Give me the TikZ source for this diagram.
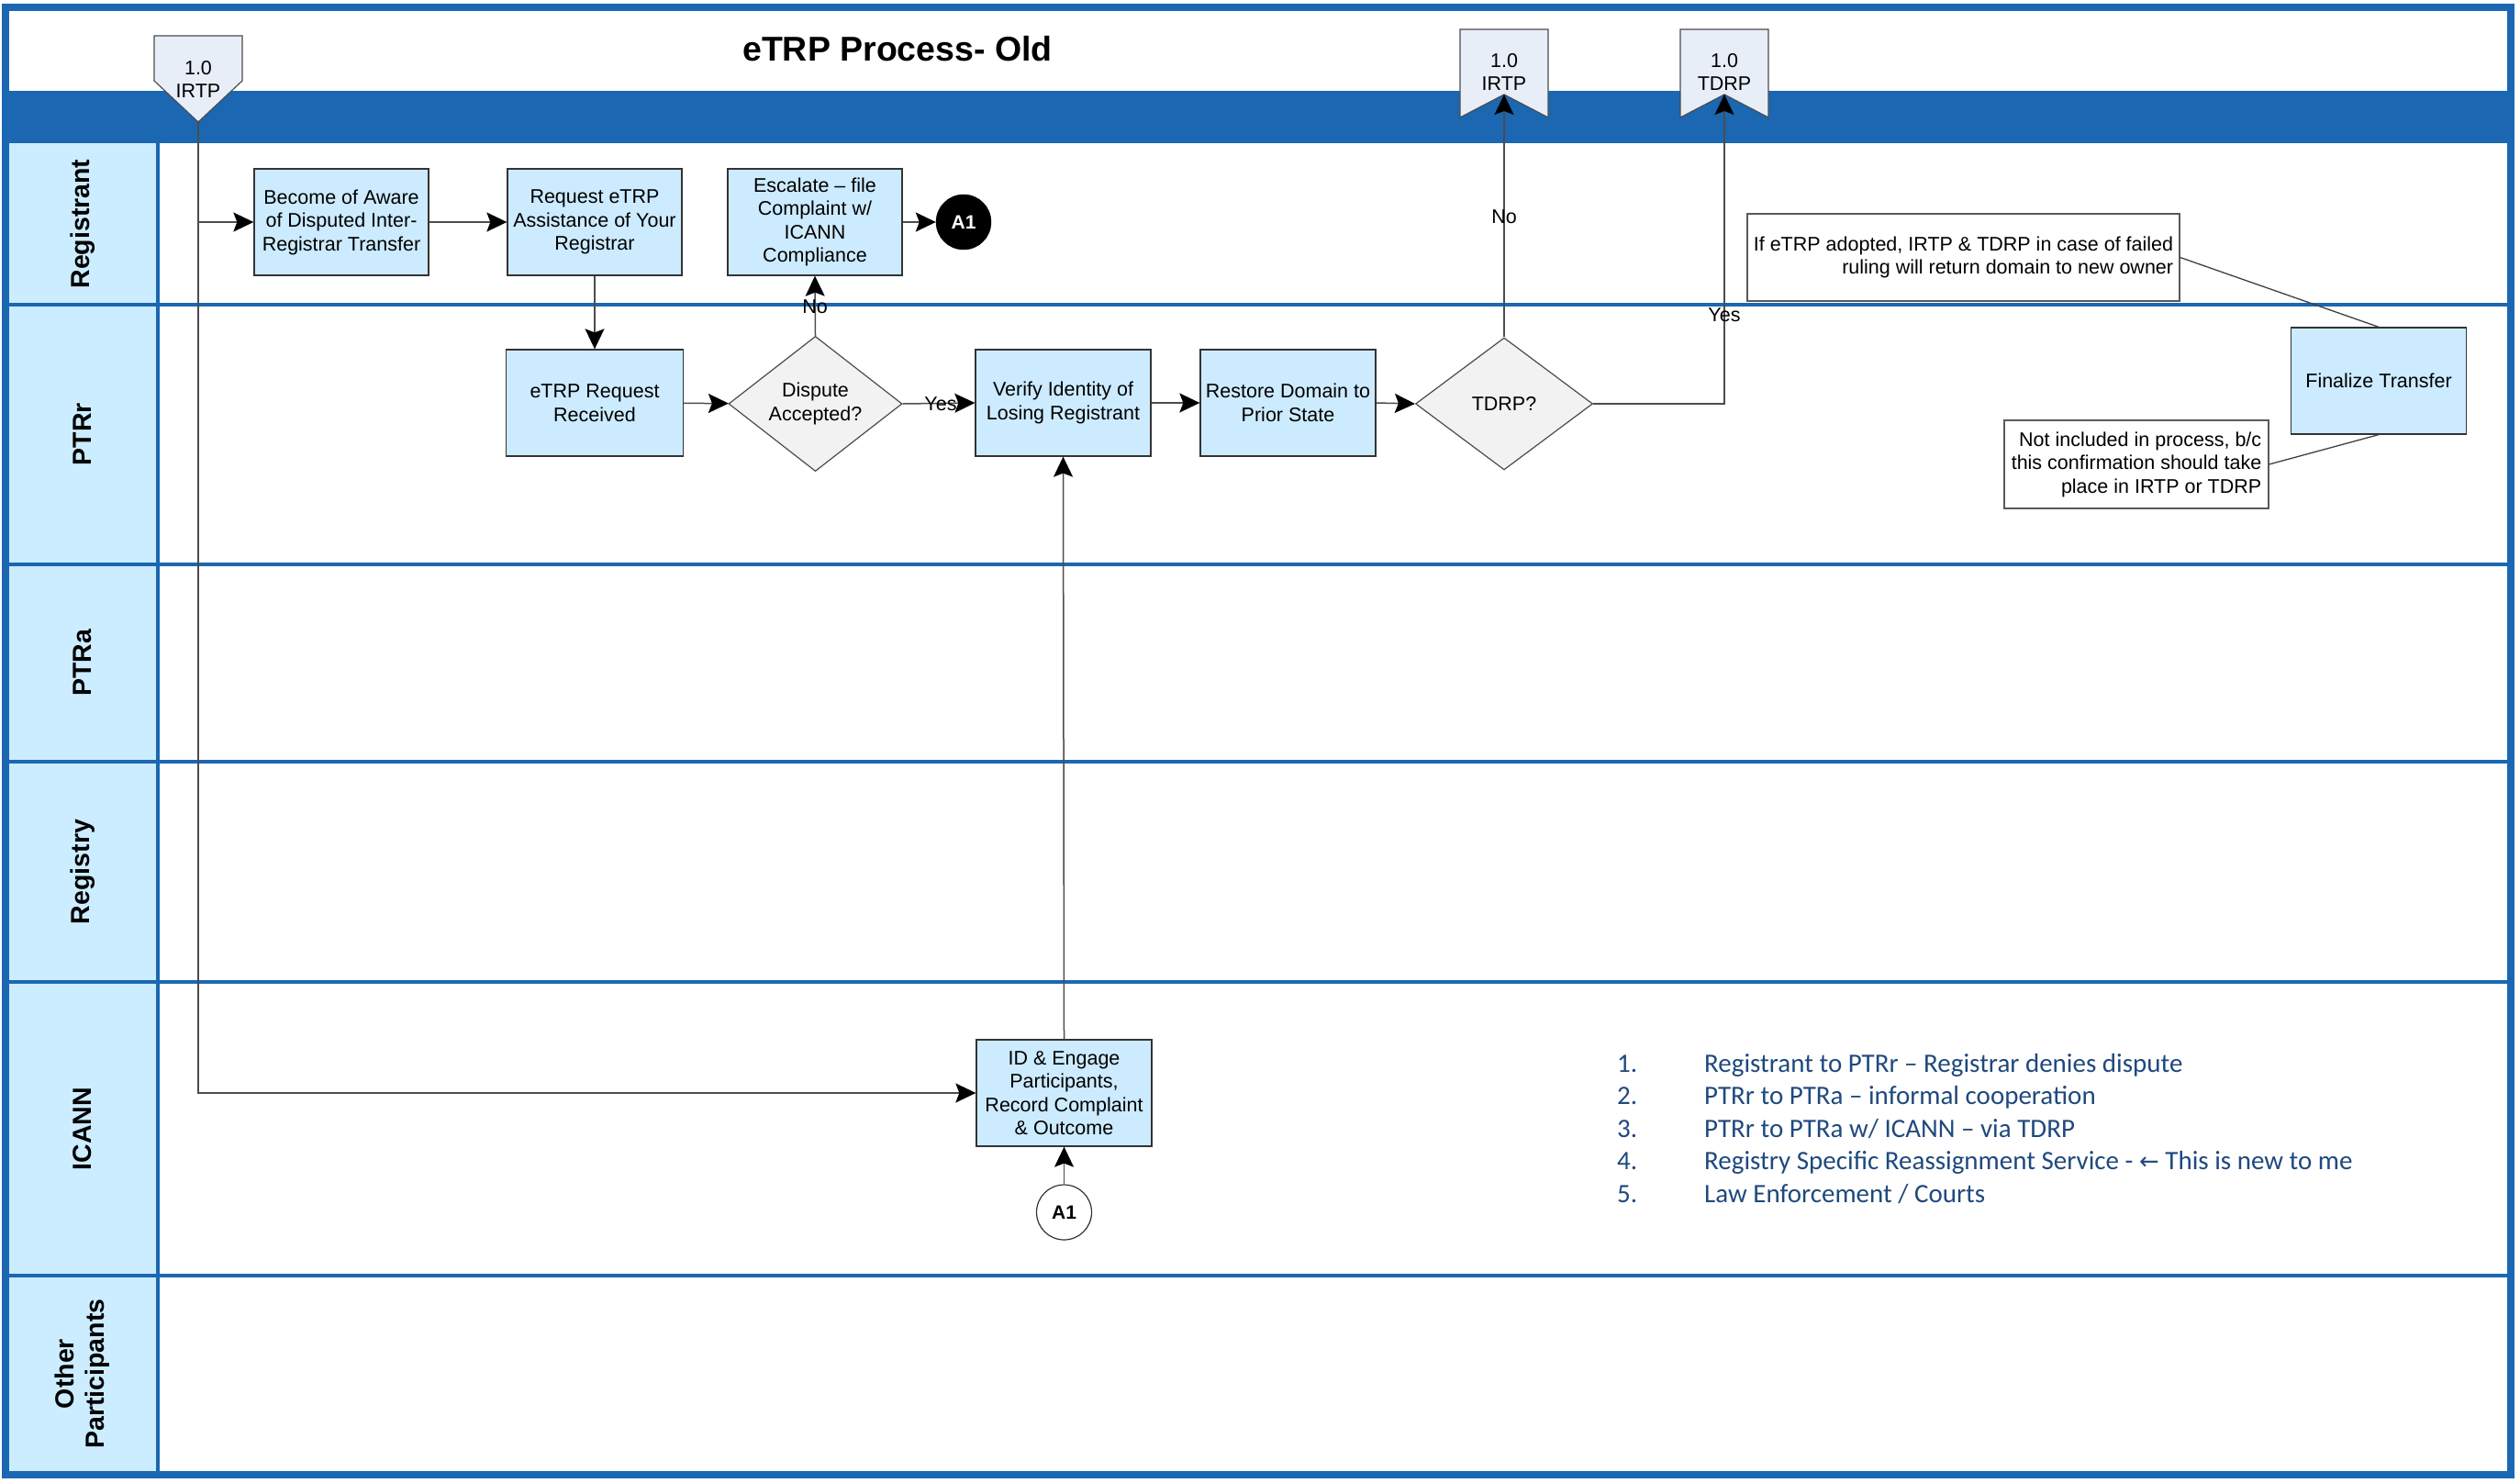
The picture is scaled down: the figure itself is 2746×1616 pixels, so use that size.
\documentclass[tikz,border=0pt]{standalone}
\usepackage{fontspec}
\setmainfont{Liberation Sans}
\newfontfamily\legendfont{Carlito}
\newfontfamily\arrowsymfont{DejaVu Sans}
\usetikzlibrary{shapes.geometric,arrows.meta}
\definecolor{frameblue}{RGB}{27,103,178}
\definecolor{lanefill}{RGB}{204,236,255}
\definecolor{boxfill}{RGB}{204,235,255}
\definecolor{diafill}{RGB}{242,242,242}
\definecolor{opfill}{RGB}{232,238,248}
\definecolor{legendblue}{RGB}{31,73,125}
\newcommand\bxfont{\fontsize{21.5}{25.5}\selectfont}
\begin{document}
\begin{tikzpicture}[x=1pt,y=-1pt,
  proc/.style={draw=black!80, line width=1.3pt, fill=boxfill, minimum width=190pt, minimum height=116pt, inner sep=2pt, align=center, font=\bxfont},
  dia/.style={diamond, draw=black!70, line width=1.2pt, fill=diafill, minimum width=190pt, minimum height=143pt, inner sep=0pt, align=center, font=\bxfont},
  notebox/.style={draw=black!65, line width=1.2pt, fill=white, inner xsep=2pt, align=right, font=\bxfont},
  conn/.style={draw=black!70, line width=1.5pt, -{Stealth[length=22pt,width=21pt,inset=4pt,black]}},
  plainline/.style={draw=black!75, line width=1.3pt},
  lbl/.style={font=\bxfont, inner sep=1pt},
  lanelabel/.style={rotate=90, font=\fontsize{28.5}{33}\selectfont\bfseries, align=center},
  opshape/.style={draw=black!70, line width=1.2pt, fill=opfill},
  optext/.style={font=\bxfont, align=center, inner sep=0pt},
  leg/.style={font=\legendfont\fontsize{29}{35.5}\selectfont, text=legendblue, inner sep=0pt, anchor=base west}
]
\useasboundingbox (0,0) rectangle (2746,1616);
% background and swimlanes
\fill[white] (0,0) rectangle (2746,1616);
\fill[lanefill] (6,156) rectangle (172,1606);
\fill[frameblue] (6,99) rectangle (2736,156);
\foreach \yy in {332,615,830,1070,1390} \draw[frameblue, line width=4pt] (6,\yy) -- (2736,\yy);
\draw[frameblue, line width=3.5pt] (172,156) -- (172,1606);
\draw[frameblue, line width=8pt] (6,8.5) rectangle (2736,1606.5);

% title
\node[font=\fontsize{37.5}{45}\selectfont\bfseries] (title) at (978,53) {eTRP Process- Old};

% lane labels
\node[lanelabel] (lRegistrant) at (90,244) {Registrant};
\node[lanelabel] (lPTRr) at (90,473) {PTRr};
\node[lanelabel] (lPTRa) at (90,722) {PTRa};
\node[lanelabel] (lRegistry) at (90,950) {Registry};
\node[lanelabel] (lICANN) at (90,1230) {ICANN};
\node[lanelabel] (lOther) at (90,1497) {Other\\Participants};

% off-page connectors
\filldraw[opshape] (168,39) -- (264,39) -- (264,88) -- (216,133) -- (168,88) -- cycle;
\node[optext] (irtpL) at (216,86.5) {1.0\\IRTP};
\coordinate (irtpLtip) at (216,133);
\filldraw[opshape] (1591,32) -- (1687,32) -- (1687,128) -- (1639,103) -- (1591,128) -- cycle;
\node[optext] (irtpR) at (1639,78.5) {1.0\\IRTP};
\coordinate (irtpRtip) at (1639,103);
\filldraw[opshape] (1831,32) -- (1927,32) -- (1927,128) -- (1879,103) -- (1831,128) -- cycle;
\node[optext] (tdrpR) at (1879,78.5) {1.0\\TDRP};
\coordinate (tdrpRtip) at (1879,103);

% process nodes
\node[proc] (b1) at (372,242) {Become of Aware\\of Disputed Inter-\\Registrar Transfer};
\node[proc] (b2) at (648,242) {Request eTRP\\Assistance of Your\\Registrar};
\node[proc] (b3) at (888,242) {Escalate -- file\\Complaint w/\\ICANN\\Compliance};
\node[circle, fill=black, draw=black, minimum size=60pt, inner sep=0pt, text=white, font=\fontsize{21}{25}\selectfont\bfseries] (a1b) at (1050,242) {A1};

\node[proc, minimum width=193pt] (req) at (648,439) {eTRP Request\\Received};
\node[dia, minimum width=189pt] (disp) at (888.5,440) {Dispute\\Accepted?};
\node[proc, minimum width=191pt] (verify) at (1158.5,439) {Verify Identity of\\Losing Registrant};
\node[proc, minimum width=191pt] (restore) at (1403.5,439) {Restore Domain to\\Prior State};
\node[dia, minimum width=193pt, minimum height=144pt] (tdrp) at (1639,440) {TDRP?};

\node[proc, minimum width=191pt] (fin) at (2592,415) {Finalize Transfer};
\node[notebox, minimum width=471pt, minimum height=95pt] (note1) at (2139.5,280.5) {If eTRP adopted, IRTP \& TDRP in case of failed\\ruling will return domain to new owner};
\node[notebox, minimum width=288pt, minimum height=96pt] (note2) at (2328,506) {Not included in process, b/c\\this confirmation should take\\place in IRTP or TDRP};

\node[proc, minimum width=191pt] (icann) at (1159.5,1191) {ID \& Engage\\Participants,\\Record Complaint\\\& Outcome};
\node[circle, draw=black!80, fill=white, line width=1.2pt, minimum size=60pt, inner sep=0pt, font=\fontsize{21}{25}\selectfont\bfseries] (a1w) at (1159.5,1321) {A1};

% connectors
\draw[conn] (irtpLtip) |- (icann.west);
\draw[conn] (irtpLtip |- b1.west) -- (b1.west);
\draw[conn] (b1) -- (b2);
\draw[conn] (b3) -- (a1b);
\draw[conn] (b2) -- (req);
\draw[conn] (req) -- (disp);
\draw[conn] (disp.north) -- (b3.south);
\node[lbl] (noA) at (888,334) {No};
\draw[conn] (disp.east) -- (verify.west);
\node[lbl] (yesA) at (1025,440) {Yes};
\draw[conn] (verify) -- (restore);
\draw[conn] (restore.east) -- (tdrp.west);
\draw[conn] (tdrp.north) -- (irtpRtip);
\node[lbl] (noB) at (1639,236) {No};
\draw[conn] (tdrp.east) -| (tdrpRtip);
\node[lbl] (yesB) at (1879,343) {Yes};
\draw[conn] (icann.north) -- (verify.south);
\draw[conn] (a1w.north) -- (icann.south);
\draw[plainline] (note1.east) -- (fin.north);
\draw[plainline] (note2.east) -- (fin.south);

% legend
\node[leg] (n1) at (1762,1168) {1.};
\node[leg] (t1) at (1857,1168) {Registrant to PTRr – Registrar denies dispute};
\node[leg] (n2) at (1762,1203.5) {2.};
\node[leg] (t2) at (1857,1203.5) {PTRr to PTRa – informal cooperation};
\node[leg] (n3) at (1762,1239) {3.};
\node[leg] (t3) at (1857,1239) {PTRr to PTRa w/ ICANN – via TDRP};
\node[leg] (n4) at (1762,1274.5) {4.};
\node[leg] (t4) at (1857,1274.5) {Registry Specific Reassignment Service - {\arrowsymfont\fontsize{26}{30}\selectfont ←} This is new to me};
\node[leg] (n5) at (1762,1310) {5.};
\node[leg] (t5) at (1857,1310) {Law Enforcement / Courts};
\end{tikzpicture}
\end{document}
